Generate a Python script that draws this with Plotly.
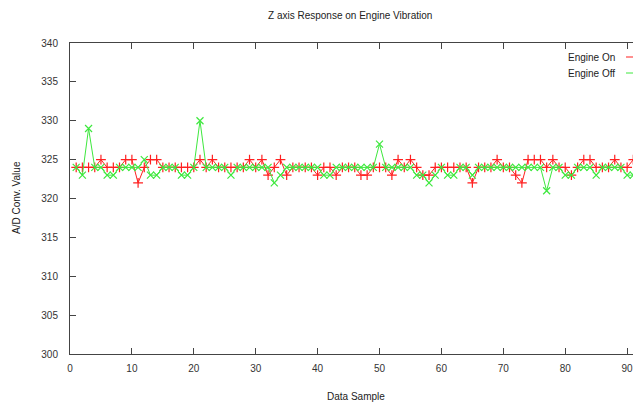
import plotly.graph_objects as go

# A/D converter readings on the Z axis, one per data sample
samples = list(range(1, 93))
engine_on = [
    324, 324, 324, 324, 325, 324, 324, 324, 325, 325,
    322, 324, 325, 325, 324, 324, 324, 324, 324, 324,
    325, 324, 325, 324, 324, 324, 324, 324, 325, 324,
    325, 323, 324, 325, 323, 324, 324, 324, 324, 323,
    324, 324, 323, 324, 324, 324, 323, 323, 324, 324,
    324, 323, 325, 324, 325, 324, 323, 323, 324, 324,
    324, 324, 324, 324, 322, 324, 324, 324, 325, 324,
    324, 323, 322, 325, 325, 325, 324, 325, 324, 324,
    323, 324, 325, 325, 324, 324, 324, 325, 324, 324,
    325, 324,
]
engine_off = [
    324, 323, 329, 324, 324, 323, 323, 324, 324, 324,
    324, 325, 323, 323, 324, 324, 324, 323, 323, 324,
    330, 324, 324, 324, 324, 323, 324, 324, 324, 324,
    324, 324, 322, 323, 324, 324, 324, 324, 324, 324,
    323, 323, 324, 324, 324, 324, 324, 324, 324, 327,
    324, 324, 324, 324, 324, 323, 323, 322, 323, 324,
    323, 323, 324, 324, 323, 324, 324, 324, 324, 324,
    324, 324, 324, 324, 324, 324, 321, 324, 324, 323,
    323, 324, 324, 324, 323, 324, 324, 324, 324, 323,
    323, 324,
]
x_ticks = [0, 10, 20, 30, 40, 50, 60, 70, 80, 90]
y_ticks = [300, 305, 310, 315, 320, 325, 330, 335, 340]

RED = "#ff2020"
GREEN = "#3ee83e"
FONT = "Liberation Sans"

fig = go.Figure()
fig.add_trace(go.Scatter(
    x=samples, y=engine_on, name="Engine On", mode="lines+markers",
    line=dict(color=RED, width=1),
    marker=dict(symbol="cross-thin", size=7, line=dict(color=RED, width=1.2)),
))
fig.add_trace(go.Scatter(
    x=samples, y=engine_off, name="Engine Off", mode="lines+markers",
    line=dict(color=GREEN, width=1),
    marker=dict(symbol="x-thin", size=7, line=dict(color=GREEN, width=1.2)),
))

axis_common = dict(
    showgrid=False, zeroline=False, showline=True, linecolor="#444",
    linewidth=1, ticks="inside", ticklen=6, tickwidth=1, tickcolor="#444",
    tickfont=dict(family=FONT, size=10, color="#333"),
    ticklabeloverflow="allow",
)
fig.update_xaxes(range=[0, 90.95], tickvals=x_ticks, mirror="ticks",
                 ticklabelstandoff=5, **axis_common)
fig.update_yaxes(range=[300, 340], tickvals=y_ticks, mirror=False,
                 ticklabelstandoff=9, **axis_common)

annotations = [
    dict(text="Z axis Response on Engine Vibration", x=350, y=15),
    dict(text="Data Sample", x=356, y=396),
]
ann = []
for a in annotations:
    ann.append(dict(
        text=a["text"], xref="paper", yref="paper",
        x=(a["x"] - 70) / 563, y=(354 - a["y"]) / 311,
        xanchor="center", yanchor="middle", showarrow=False,
        font=dict(family=FONT, size=10, color="#222"),
    ))
ann.append(dict(
    text="A/D Conv. Value", xref="paper", yref="paper",
    x=(16 - 70) / 563, y=(354 - 198) / 311, textangle=-90,
    xanchor="center", yanchor="middle", showarrow=False,
    font=dict(family=FONT, size=10, color="#222"),
))
# key entries drawn at the top right of the plot area
key = [("Engine On", RED, 57), ("Engine Off", GREEN, 73)]
shapes = []
for label, color, ypix in key:
    ann.append(dict(
        text=label, xref="paper", yref="paper",
        x=(617 - 70) / 563, y=(354 - ypix) / 311,
        xanchor="right", yanchor="middle", showarrow=False,
        font=dict(family=FONT, size=10, color="#222"),
    ))
    shapes.append(dict(
        type="line", xref="paper", yref="paper",
        x0=(626 - 70) / 563, x1=(660 - 70) / 563,
        y0=(354 - ypix) / 311, y1=(354 - ypix) / 311,
        line=dict(color=color, width=1),
    ))

fig.update_layout(
    width=633, height=409,
    margin=dict(l=70, r=0, t=43, b=55),
    paper_bgcolor="white", plot_bgcolor="white",
    showlegend=False, annotations=ann, shapes=shapes,
)

fig.write_html("out.html")
